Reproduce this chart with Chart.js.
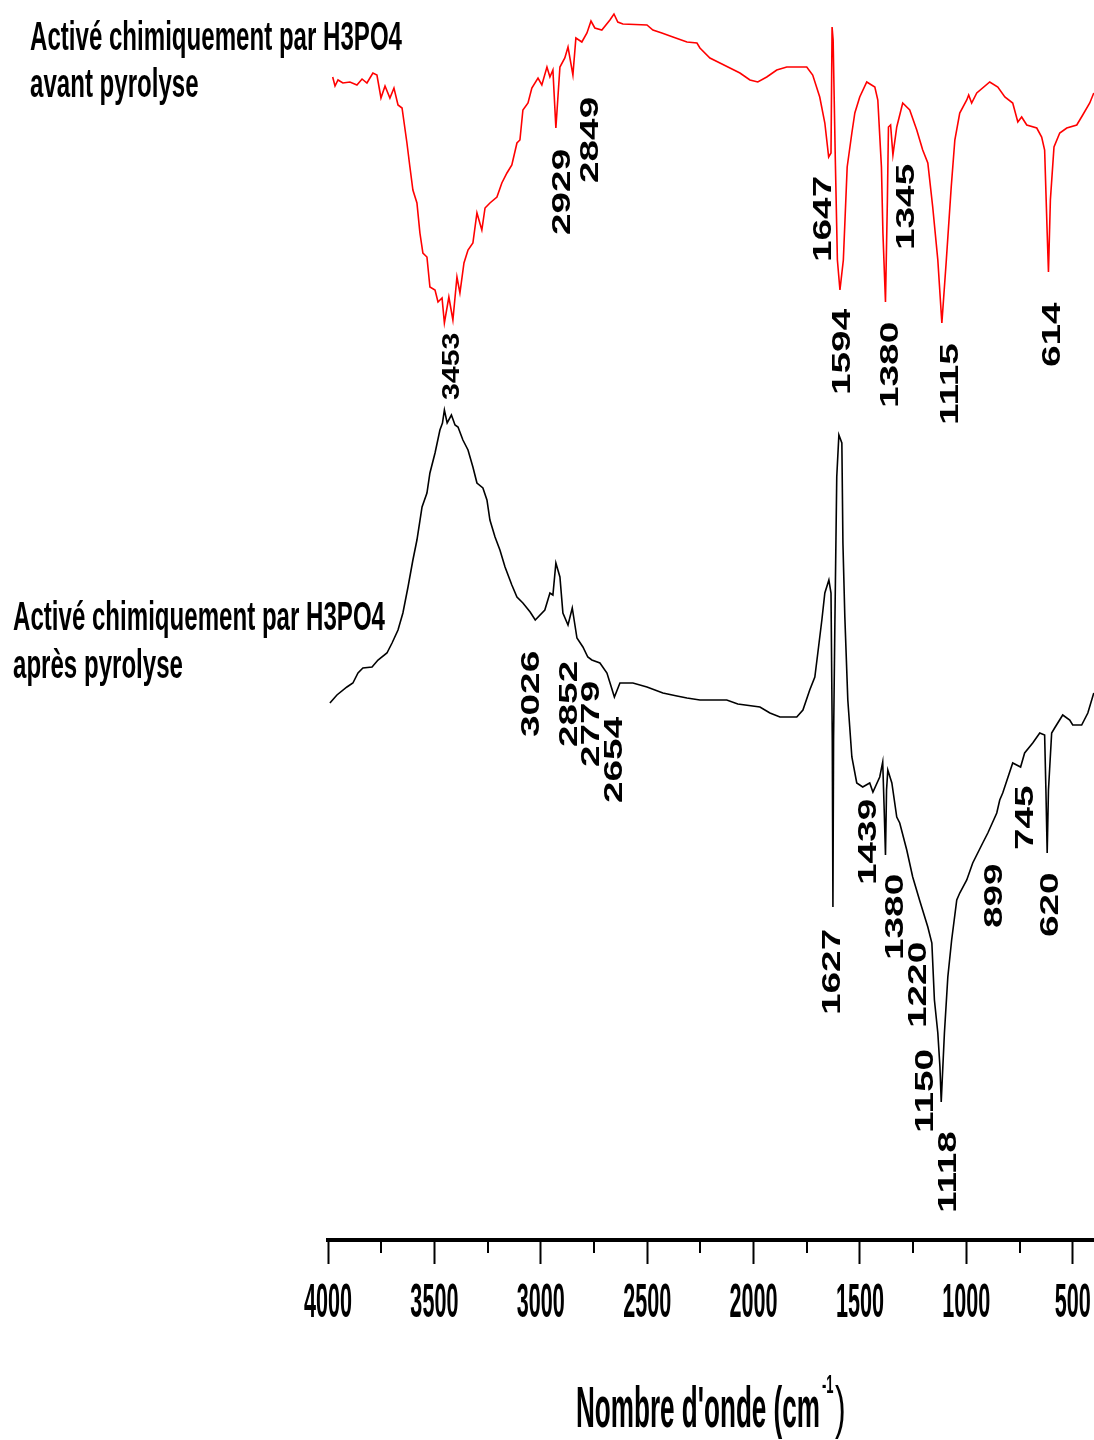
<!DOCTYPE html>
<html>
<head>
<meta charset="utf-8">
<title>Spectres IRTF – charbon activé par H3PO4</title>
<script src="https://cdn.jsdelivr.net/npm/chart.js@4/dist/chart.umd.min.js"></script>
<style>
  html, body { margin: 0; padding: 0; background: #ffffff; }
  canvas { display: block; }
</style>
</head>
<body>
<canvas id="ftir" width="1094" height="1440"></canvas>
<script>
// ---- Spectre avant pyrolyse (nombre d'onde, transmittance relative) ----
const wnAvant = [3978, 3967, 3953, 3930, 3897, 3864, 3840, 3817, 3789, 3770, 3751, 3732, 3709, 3690, 3671, 3652,
  3629, 3615, 3601, 3582, 3568, 3554, 3535, 3521, 3497, 3483, 3464, 3453, 3432, 3413, 3394, 3380, 3361, 3342,
  3319, 3300, 3277, 3262, 3239, 3206, 3183, 3159, 3136, 3112, 3098, 3084, 3060, 3042, 3013, 2995, 2971, 2957,
  2943, 2929, 2910, 2887, 2872, 2849, 2835, 2807, 2783, 2764, 2746, 2713, 2675, 2656, 2638, 2614, 2501, 2473,
  2431, 2379, 2313, 2266, 2252, 2205, 2158, 2111, 2064, 2017, 1980, 1938, 1891, 1844, 1750, 1722, 1689, 1665,
  1647, 1636, 1631, 1626, 1616, 1606, 1594, 1578, 1560, 1538, 1524, 1501, 1468, 1430, 1416, 1399, 1392, 1380,
  1371, 1366, 1356, 1345, 1327, 1299, 1266, 1233, 1205, 1181, 1158, 1134, 1115, 1094, 1071, 1054, 1031, 998,
  989, 975, 951, 890, 852, 819, 782, 758, 740, 716, 669, 646, 632, 620, 614, 605, 588, 561, 528, 481, 453, 420, 401];
const tAvant = [116.3, 115.4, 116.0, 115.7, 115.8, 115.5, 116.1, 115.7, 116.7, 116.5, 114.2, 115.4, 114.2, 115.2, 113.5, 113.2,
  109.7, 107.3, 105.0, 103.7, 100.7, 98.7, 98.3, 95.3, 95.0, 93.8, 94.2, 91.7, 94.3, 92.0, 96.3, 94.7, 97.7, 99.0,
  99.7, 102.7, 101.0, 103.2, 103.7, 104.3, 105.7, 106.7, 107.5, 109.7, 110.0, 113.0, 113.7, 115.2, 116.2, 115.5, 117.3, 116.3,
  117.0, 111.2, 117.3, 118.2, 119.3, 116.5, 120.2, 119.8, 120.7, 121.9, 121.2, 121.0, 122.0, 122.6, 121.8, 121.6, 121.5, 121.0,
  120.7, 120.3, 119.8, 119.7, 119.2, 118.2, 117.7, 117.2, 116.7, 116.0, 115.8, 116.3, 117.0, 117.3, 117.3, 116.5, 114.3, 111.7,
  108.3, 108.7, 121.3, 120.0, 108.3, 98.0, 95.0, 98.0, 107.3, 110.7, 112.7, 114.3, 115.8, 115.3, 114.0, 107.3, 100.7, 93.8,
  104.0, 111.3, 111.5, 108.5, 111.3, 113.7, 113.0, 111.0, 109.0, 107.7, 103.3, 98.0, 91.7, 98.0, 105.3, 110.0, 112.7, 114.0,
  114.5, 113.7, 114.7, 115.8, 115.3, 114.3, 113.7, 111.8, 112.3, 111.5, 111.2, 110.3, 109.0, 100.7, 96.8, 104.0, 109.3, 110.7, 111.2, 111.5, 112.5, 113.7, 114.7];

// ---- Spectre après pyrolyse ----
const wnApres = [3991, 3958, 3911, 3883, 3859, 3836, 3793, 3765, 3723, 3699, 3671, 3648, 3624, 3601, 3582, 3558,
  3535, 3521, 3497, 3474, 3462, 3453, 3440, 3420, 3403, 3389, 3366, 3342, 3319, 3300, 3272, 3253, 3239, 3215,
  3192, 3168, 3136, 3112, 3084, 3050, 3026, 2981, 2957, 2943, 2929, 2910, 2896, 2872, 2852, 2830, 2802, 2779,
  2760, 2722, 2689, 2654, 2628, 2567, 2501, 2426, 2360, 2313, 2252, 2126, 2074, 1970, 1923, 1876, 1797, 1768,
  1736, 1712, 1698, 1679, 1665, 1646, 1636, 1630, 1627, 1624, 1618, 1609, 1599, 1585, 1580, 1571, 1557, 1538,
  1515, 1487, 1454, 1439, 1407, 1393, 1386, 1380, 1375, 1369, 1350, 1327, 1313, 1280, 1252, 1220, 1181, 1162,
  1150, 1134, 1124, 1118, 1103, 1087, 1069, 1045, 1031, 998, 970, 923, 899, 857, 843, 829, 782, 745, 726, 688,
  655, 632, 626, 620, 614, 599, 585, 547, 514, 500, 458, 429, 401];
const tApres = [53.7, 54.5, 55.3, 55.7, 56.7, 57.2, 57.3, 58.0, 58.7, 59.7, 61.0, 62.7, 65.3, 68.0, 70.0, 73.3,
  74.7, 76.7, 78.7, 81.0, 81.7, 83.0, 81.7, 82.5, 81.5, 81.3, 80.0, 79.0, 77.3, 75.7, 75.2, 74.0, 72.0, 70.3,
  69.0, 67.3, 65.5, 64.3, 63.7, 62.8, 62.0, 63.0, 64.7, 64.5, 67.7, 66.3, 62.7, 61.5, 63.2, 60.2, 59.3, 58.3,
  58.0, 57.7, 56.7, 54.3, 55.7, 55.7, 55.3, 54.7, 54.4, 54.2, 54.0, 54.0, 53.6, 53.3, 52.7, 52.3, 52.3, 53.0,
  55.0, 56.3, 58.7, 62.0, 64.7, 66.0, 64.7, 50.0, 33.3, 50.0, 61.3, 76.3, 80.5, 79.7, 69.7, 62.3, 54.0, 48.3,
  45.7, 45.3, 45.7, 44.8, 46.3, 47.8, 43.0, 38.5, 45.0, 47.0, 45.7, 42.3, 41.7, 39.0, 36.3, 34.0, 31.3, 29.7,
  24.0, 20.7, 17.3, 13.8, 20.7, 26.3, 30.0, 34.0, 34.7, 36.0, 37.7, 39.7, 40.7, 42.7, 44.0, 44.7, 47.7, 47.3, 48.7, 49.7,
  50.7, 50.5, 45.0, 38.7, 45.0, 50.7, 51.2, 52.5, 52.0, 51.5, 51.5, 52.7, 54.7];

// ---- Bandes annotées ----
const peaksAvant = [3453, 2929, 2849, 1647, 1594, 1380, 1345, 1115, 614];
const peaksApres = [3026, 2852, 2779, 2654, 1627, 1439, 1380, 1220, 1150, 1118, 899, 745, 620];

// ---- Axe des abscisses ----
const majorTicks = [4000, 3500, 3000, 2500, 2000, 1500, 1000, 500];
const minorTicks = [3750, 3250, 2750, 2250, 1750, 1250, 750];
const axisTitle = "Nombre d'onde (cm";
const axisTitleSup = "-1";
const labelAvant = ["Activé chimiquement par H3PO4", "avant pyrolyse"];
const labelApres = ["Activé chimiquement par H3PO4", "après pyrolyse"];

// Placement of the vertical band labels: [horizontal nudge px, y value at the start of the text]
const placeAvant = [[6, 84.0], [5, 100.5], [16, 105.7], [-7, 97.8], [1, 84.5], [3.5, 83.2], [12, 99.0], [7, 81.5], [2.5, 87.3]];
const placeApres = [[-6, 50.3], [-5, 49.3], [2, 47.3], [-1.5, 43.7], [-2, 22.5], [-6, 35.5], [8.5, 28.0], [-2.5, 21.2],
  [-10.5, 10.7], [5, 2.7], [5, 31.2], [3.5, 39.0], [2, 30.3]];

const FONT = '"Liberation Sans", Arial, sans-serif';

function toPoints(xs, ys) { return xs.map((x, i) => ({ x: x, y: ys[i] })); }

function drawSqueezed(ctx, text, x, y, sx) {
  ctx.save();
  ctx.translate(x, y);
  ctx.scale(sx, 1);
  ctx.fillText(text, 0, 0);
  ctx.restore();
}

function drawBandLabel(ctx, text, cx, yStart, size, stretch) {
  ctx.save();
  ctx.translate(cx, yStart);
  ctx.rotate(-Math.PI / 2);
  ctx.scale(stretch, 1);
  ctx.font = 'bold ' + size + 'px ' + FONT;
  ctx.textAlign = 'left';
  ctx.textBaseline = 'alphabetic';
  ctx.fillText(text, 0, size * 0.358);
  ctx.restore();
}

const annotations = {
  id: 'annotations',
  afterDraw(chart) {
    const ctx = chart.ctx;
    const xs = chart.scales.x;
    const ys = chart.scales.y;
    const bottom = chart.chartArea.bottom;
    ctx.save();
    ctx.fillStyle = '#000';
    ctx.strokeStyle = '#000';

    // minor tick marks
    ctx.lineWidth = 2;
    minorTicks.forEach(v => {
      const px = Math.round(xs.getPixelForValue(v)) + 0.0;
      ctx.beginPath();
      ctx.moveTo(px, bottom);
      ctx.lineTo(px, bottom + 13);
      ctx.stroke();
    });

    // condensed tick labels
    ctx.font = 'bold 48px ' + FONT;
    ctx.textBaseline = 'alphabetic';
    majorTicks.forEach(v => {
      const px = xs.getPixelForValue(v);
      const w = ctx.measureText(String(v)).width * 0.45;
      drawSqueezed(ctx, String(v), px - w / 2, bottom + 77, 0.45);
    });

    // axis title with superscript
    ctx.font = 'bold 58px ' + FONT;
    const tw = ctx.measureText(axisTitle).width;
    const tsx = 244 / tw;
    const tx = 576;
    drawSqueezed(ctx, axisTitle, tx, bottom + 187, tsx);
    ctx.font = 'bold 26px ' + FONT;
    drawSqueezed(ctx, axisTitleSup, tx + 246, bottom + 153, 0.5);
    ctx.font = '58px ' + FONT;
    drawSqueezed(ctx, ')', tx + 259, bottom + 187, 0.55);

    // spectrum names
    ctx.font = 'bold 40px ' + FONT;
    const lsx = 372 / ctx.measureText(labelAvant[0]).width;
    drawSqueezed(ctx, labelAvant[0], 30, ys.getPixelForValue(119.0), lsx);
    drawSqueezed(ctx, labelAvant[1], 30, ys.getPixelForValue(114.3), lsx);
    drawSqueezed(ctx, labelApres[0], 13, ys.getPixelForValue(61.0), lsx);
    drawSqueezed(ctx, labelApres[1], 13, ys.getPixelForValue(56.2), lsx);

    // band positions
    peaksAvant.forEach((wn, i) => {
      const p = placeAvant[i];
      const big = i !== 0;
      drawBandLabel(ctx, String(wn), xs.getPixelForValue(wn) + p[0], ys.getPixelForValue(p[1]),
        big ? 26 : 24, big ? 1.49 : 1.26);
    });
    peaksApres.forEach((wn, i) => {
      const p = placeApres[i];
      drawBandLabel(ctx, String(wn), xs.getPixelForValue(wn) + p[0], ys.getPixelForValue(p[1]), 26, 1.49);
    });
    ctx.restore();
  }
};

new Chart(document.getElementById('ftir'), {
  type: 'line',
  data: {
    datasets: [
      {
        label: 'avant pyrolyse',
        data: toPoints(wnAvant, tAvant),
        borderColor: '#ff0000',
        borderWidth: 1.6,
        pointRadius: 0,
        tension: 0,
        fill: false
      },
      {
        label: 'après pyrolyse',
        data: toPoints(wnApres, tApres),
        borderColor: '#000000',
        borderWidth: 1.6,
        pointRadius: 0,
        tension: 0,
        fill: false
      }
    ]
  },
  options: {
    responsive: false,
    animation: false,
    devicePixelRatio: 1,
    layout: { padding: { left: 328, right: 0, top: 0, bottom: 0 } },
    plugins: { legend: { display: false }, tooltip: { enabled: false } },
    scales: {
      x: {
        type: 'linear',
        reverse: true,
        min: 400,
        max: 4000,
        afterBuildTicks(scale) {
          scale.ticks = majorTicks.map(v => ({ value: v }));
        },
        afterFit(scale) { scale.height = 200; },
        border: { display: true, color: '#000', width: 4 },
        grid: {
          drawOnChartArea: false,
          drawTicks: true,
          tickLength: 24,
          tickWidth: 2,
          tickColor: '#000'
        },
        ticks: { display: false }
      },
      y: {
        type: 'linear',
        display: false,
        min: 0,
        max: 124
      }
    }
  },
  plugins: [annotations]
});
</script>
</body>
</html>
